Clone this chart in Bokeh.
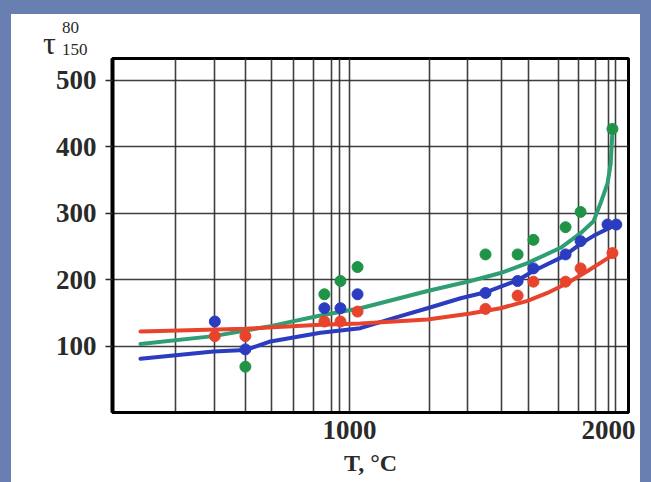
from bokeh.plotting import figure
from bokeh.models import FixedTicker, Range1d, Div
from bokeh.layouts import column
from bokeh.embed import file_html
from bokeh.resources import INLINE

# ---- data ----
grid_T = [330, 480, 600, 700, 785, 860, 930, 960, 1000,
          1310, 1455, 1585, 1690, 1805, 1885, 1950, 2000, 2025]
x_label_ticks = [1000, 2000]
y_ticks = [100, 200, 300, 400, 500]

green_T = [598, 903, 965, 1031, 1525, 1649, 1710, 1834, 1892, 2015]
green_v = [69, 178, 198, 219, 238, 238, 260, 279, 302, 427]
blue_T = [480, 598, 903, 965, 1031, 1525, 1649, 1710, 1834, 1892, 1996, 2030]
blue_v = [137, 95, 157, 157, 178, 180, 198, 217, 238, 258, 283, 283]
red_T = [480, 598, 903, 965, 1031, 1525, 1649, 1710, 1834, 1892, 2015]
red_v = [115, 115, 137, 137, 152, 156, 176, 197, 197, 217, 240]

green_curve_T = [193, 475, 695, 888, 1042, 1301, 1467, 1583, 1687, 1815,
                 1892, 1942, 1969, 1996, 2008, 2015]
green_curve_v = [103, 115, 130, 146, 157, 183, 198, 210, 225, 248,
                 270, 288, 315, 345, 374, 424]
blue_curve_T = [193, 475, 598, 695, 888, 1042, 1170, 1301, 1429, 1525,
                1649, 1710, 1826, 1892, 1942, 2019, 2030]
blue_curve_v = [81, 92, 94, 107, 120, 127, 142, 157, 172, 181,
                199, 213, 235, 254, 266, 281, 285]
red_curve_T = [193, 598, 888, 1042, 1301, 1467, 1583, 1687, 1764, 1842,
               1919, 1996, 2027]
red_curve_v = [122, 126, 132, 134, 140, 149, 157, 168, 180, 195,
               213, 232, 240]

y_symbol = "τ"
y_sup = "80"
y_sub = "150"

GREEN_LINE = "#2f9e73"
GREEN_DOT = "#1f9447"
BLUE = "#2b3cc0"
RED = "#e8432c"
FRAME_BG = "#6a7fb1"
TEXT = "#2a2a2a"
FONT = "Liberation Serif"

# ---- header strip carrying the y quantity symbol (tau, sup 80, sub 150) ----
head_html = (
    f'<div style="position:relative;width:629px;height:42px;'
    f'font-family:\'{FONT}\';color:{TEXT};">'
    f'<span style="position:absolute;left:32px;top:13px;font-size:32px;line-height:1;">{y_symbol}</span>'
    f'<span style="position:absolute;left:51px;top:5px;font-size:17px;line-height:1;">{y_sup}</span>'
    f'<span style="position:absolute;left:51px;top:27px;font-size:17px;line-height:1;">{y_sub}</span>'
    f'</div>'
)
head = Div(text=head_html, width=629, height=42, margin=(14, 0, 0, 11),
           styles={"background-color": "white"})

p = figure(width=629, height=426,
           x_range=Range1d(85, 2077), y_range=Range1d(0, 533),
           output_backend="svg", toolbar_location=None,
           min_border_left=101, min_border_top=2,
           min_border_right=12, min_border_bottom=70,
           background_fill_color="white", border_fill_color="white")
p.margin = (0, 0, 0, 11)

p.outline_line_color = "black"
p.outline_line_width = 3

# grid
p.xgrid.ticker = FixedTicker(ticks=grid_T)
p.ygrid.ticker = FixedTicker(ticks=y_ticks)
for g in (p.xgrid, p.ygrid):
    g.grid_line_color = "#2a2a2a"
    g.grid_line_width = 1.6
    g.grid_line_alpha = 0.9

# axes
p.xaxis.ticker = FixedTicker(ticks=x_label_ticks)
p.xaxis.major_tick_out = 0
p.xaxis.major_tick_in = 0
p.xaxis.minor_tick_out = 0
p.xaxis.minor_tick_in = 0
p.xaxis.axis_line_width = 3
p.xaxis.axis_line_color = "black"
p.xaxis.major_label_standoff = 8
p.xaxis.axis_label = "T, °C"
p.xaxis.axis_label_standoff = 8

p.yaxis.ticker = FixedTicker(ticks=y_ticks)
p.yaxis.major_tick_out = 7
p.yaxis.major_tick_in = 0
p.yaxis.minor_tick_out = 0
p.yaxis.minor_tick_in = 0
p.yaxis.major_tick_line_color = "#2a2a2a"
p.yaxis.major_tick_line_width = 1.6
p.yaxis.axis_line_width = 4
p.yaxis.axis_line_color = "black"
p.yaxis.major_label_standoff = 9

for ax in (p.xaxis, p.yaxis):
    ax.major_label_text_font = FONT
    ax.major_label_text_font_size = "27px"
    ax.major_label_text_font_style = "bold"
    ax.major_label_text_color = TEXT
    ax.axis_label_text_font = FONT
    ax.axis_label_text_font_size = "24px"
    ax.axis_label_text_font_style = "bold"
    ax.axis_label_text_color = TEXT

# curves
p.line(green_curve_T, green_curve_v, line_color=GREEN_LINE, line_width=4,
       line_join="round", line_cap="round")
p.line(blue_curve_T, blue_curve_v, line_color=BLUE, line_width=4,
       line_join="round", line_cap="round")
p.line(red_curve_T, red_curve_v, line_color=RED, line_width=4,
       line_join="round", line_cap="round")

# points
p.scatter(green_T, green_v, size=11, fill_color=GREEN_DOT, line_color=GREEN_DOT)
p.scatter(red_T, red_v, size=11, fill_color=RED, line_color=RED)
p.scatter(blue_T, blue_v, size=11, fill_color=BLUE, line_color=BLUE)

# white page with a blue-grey frame on the left, top and right
layout = column(head, p, width=651, height=482, spacing=0,
                styles={"background-color": "white",
                        "box-shadow": f"inset 11px 14px 0 0 {FRAME_BG}, inset -11px 0 0 0 {FRAME_BG}"})

open("out.html", "w").write(file_html(layout, INLINE))
